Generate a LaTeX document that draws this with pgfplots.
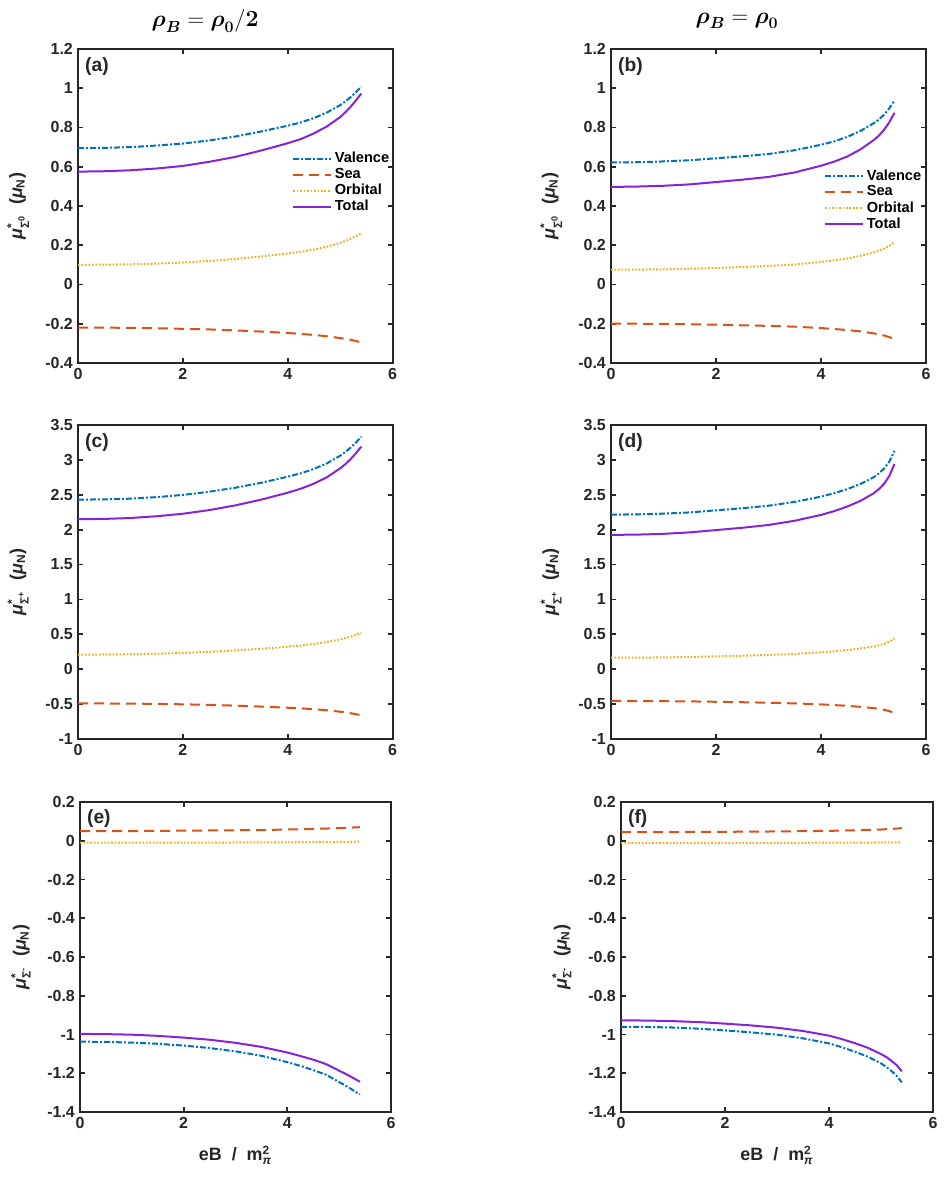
\documentclass[11pt,border=0pt]{standalone}
\usepackage{amsmath}
\usepackage[no-math]{fontspec}
\setmainfont{Liberation Sans}
\usepackage{pgfplots}
\pgfplotsset{compat=1.18}
\definecolor{cval}{RGB}{0,114,189}
\definecolor{csea}{RGB}{217,83,25}
\definecolor{corb}{RGB}{237,177,32}
\definecolor{ctot}{RGB}{135,35,215}
\definecolor{axgray}{RGB}{38,38,38}
\pgfplotsset{
  panel/.style={
    scale only axis, anchor=south west,
    xmin=0, xmax=6, xtick={0,2,4,6},
    tick align=inside, major tick length=3.5pt,
    axis line style={line width=1.3pt, color=axgray},
    every tick/.style={line width=1.3pt, color=axgray},
    ticklabel style={font=\large\bfseries, color=axgray},
    /pgf/number format/assume math mode=true,
    label style={font=\large\bfseries, color=axgray, scale=1.12},
    ylabel style={at={(axis description cs:-0.19,0.5)}, anchor=center},
    xlabel style={at={(axis description cs:0.5,-0.14)}, anchor=center},
    title style={anchor=center, font=\LARGE},
    legend style={draw=none, fill=none, anchor=north west, inner sep=0pt,
      font=\normalsize\bfseries, row sep=-1.5pt},
    legend cell align=left,
  },
  val/.style={cval, line width=1.5pt, dash pattern=on 4.5pt off 1.5pt on 1.5pt off 1.5pt},
  sea/.style={csea, line width=1.5pt, dash pattern=on 7.5pt off 4.5pt},
  orb/.style={corb, line width=1.5pt, dash pattern=on 1.3pt off 1.3pt},
  tot/.style={ctot, line width=1.5pt},
}
\pgfplotsset{legend image code/.code={\draw[#1] (0cm,0cm) -- (1cm,0cm);}}
\newcommand{\plab}[1]{\node[anchor=north west, inner sep=0pt, font=\Large\bfseries, color=axgray] at (rel axis cs:0.022,0.975) {#1};}
\begin{document}
\begin{tikzpicture}
\path[use as bounding box] (0pt,0pt) rectangle (707.25pt,900.75pt);

% (a)
\begin{axis}[panel, at={(58.5pt,628.5pt)}, width=236pt, height=235.5pt,
  ymin=-0.4, ymax=1.2, ytick={-0.4,-0.2,0,0.2,0.4,0.6,0.8,1,1.2},
  ylabel={\textit{μ}$^{\text{*}}_{\text{Σ}^{\text{0}}}$\ \ (\textit{μ}$_{\text{N}}$)},
  title={$\boldsymbol{\rho}_{\boldsymbol{B}}=\boldsymbol{\rho}_{\mathbf{0}}/\mathbf{2}$}, title style={at={(axis description cs:0.404,1.063)}},
  legend style={at={(0.68,0.68)}}]
\addplot[val] coordinates {(0,0.695)(0.5,0.696)(1,0.700)(1.5,0.708)(2,0.718)(2.5,0.734)(3,0.754)(3.5,0.780)(4,0.809)(4.25,0.826)(4.5,0.848)(4.75,0.877)(5,0.914)(5.1,0.933)(5.2,0.955)(5.3,0.980)(5.4,1.008)};
\addplot[sea] coordinates {(0,-0.220)(0.5,-0.220)(1,-0.221)(1.5,-0.223)(2,-0.226)(2.5,-0.229)(3,-0.234)(3.5,-0.240)(4,-0.247)(4.25,-0.252)(4.5,-0.257)(4.75,-0.264)(5,-0.273)(5.1,-0.277)(5.2,-0.282)(5.3,-0.288)(5.4,-0.295)};
\addplot[orb] coordinates {(0,0.100)(0.5,0.101)(1,0.103)(1.5,0.106)(2,0.112)(2.5,0.120)(3,0.130)(3.5,0.143)(4,0.158)(4.25,0.167)(4.5,0.178)(4.75,0.193)(5,0.212)(5.1,0.222)(5.2,0.233)(5.3,0.246)(5.4,0.260)};
\addplot[tot] coordinates {(0,0.575)(0.5,0.577)(1,0.582)(1.5,0.591)(2,0.604)(2.5,0.625)(3,0.650)(3.5,0.683)(4,0.720)(4.25,0.741)(4.5,0.770)(4.75,0.806)(5,0.853)(5.1,0.878)(5.2,0.906)(5.3,0.938)(5.4,0.973)};
\legend{Valence,Sea,Orbital,Total}
\plab{(a)}
\end{axis}

% (b)
\begin{axis}[panel, at={(458.25pt,628.5pt)}, width=236.25pt, height=235.5pt,
  ymin=-0.4, ymax=1.2, ytick={-0.4,-0.2,0,0.2,0.4,0.6,0.8,1,1.2},
  ylabel={\textit{μ}$^{\text{*}}_{\text{Σ}^{\text{0}}}$\ \ (\textit{μ}$_{\text{N}}$)},
  title={$\boldsymbol{\rho}_{\boldsymbol{B}}=\boldsymbol{\rho}_{\mathbf{0}}$}, title style={at={(axis description cs:0.40,1.063)}},
  legend style={at={(0.676,0.625)}}]
\addplot[val] coordinates {(0,0.622)(0.5,0.623)(1,0.627)(1.5,0.633)(2,0.643)(2.5,0.653)(3,0.665)(3.5,0.684)(4,0.712)(4.25,0.729)(4.5,0.752)(4.75,0.782)(5,0.821)(5.1,0.840)(5.2,0.865)(5.3,0.897)(5.4,0.938)};
\addplot[sea] coordinates {(0,-0.200)(0.5,-0.200)(1,-0.201)(1.5,-0.203)(2,-0.205)(2.5,-0.208)(3,-0.211)(3.5,-0.215)(4,-0.222)(4.25,-0.227)(4.5,-0.232)(4.75,-0.239)(5,-0.249)(5.1,-0.254)(5.2,-0.260)(5.3,-0.268)(5.4,-0.278)};
\addplot[orb] coordinates {(0,0.075)(0.5,0.076)(1,0.077)(1.5,0.080)(2,0.084)(2.5,0.089)(3,0.094)(3.5,0.102)(4,0.115)(4.25,0.123)(4.5,0.132)(4.75,0.146)(5,0.163)(5.1,0.172)(5.2,0.183)(5.3,0.197)(5.4,0.215)};
\addplot[tot] coordinates {(0,0.497)(0.5,0.499)(1,0.503)(1.5,0.510)(2,0.522)(2.5,0.534)(3,0.548)(3.5,0.571)(4,0.605)(4.25,0.626)(4.5,0.652)(4.75,0.688)(5,0.735)(5.1,0.758)(5.2,0.788)(5.3,0.826)(5.4,0.875)};
\legend{Valence,Sea,Orbital,Total}
\plab{(b)}
\end{axis}

% (c)
\begin{axis}[panel, at={(58.5pt,346.5pt)}, width=236pt, height=235.5pt,
  ymin=-1, ymax=3.5, ytick={-1,-0.5,0,0.5,1,1.5,2,2.5,3,3.5},
  ylabel={\textit{μ}$^{\text{*}}_{\text{Σ}^{\text{+}}}$\ \ (\textit{μ}$_{\text{N}}$)}]
\addplot[val] coordinates {(0,2.430)(0.5,2.434)(1,2.444)(1.5,2.466)(2,2.498)(2.5,2.543)(3,2.601)(3.5,2.673)(4,2.759)(4.25,2.808)(4.5,2.871)(4.75,2.952)(5,3.060)(5.1,3.114)(5.2,3.177)(5.3,3.249)(5.4,3.330)};
\addplot[sea] coordinates {(0,-0.490)(0.5,-0.491)(1,-0.493)(1.5,-0.497)(2,-0.503)(2.5,-0.511)(3,-0.522)(3.5,-0.536)(4,-0.552)(4.25,-0.561)(4.5,-0.573)(4.75,-0.589)(5,-0.609)(5.1,-0.619)(5.2,-0.631)(5.3,-0.645)(5.4,-0.660)};
\addplot[orb] coordinates {(0,0.210)(0.5,0.211)(1,0.215)(1.5,0.222)(2,0.233)(2.5,0.249)(3,0.269)(3.5,0.294)(4,0.323)(4.25,0.340)(4.5,0.362)(4.75,0.390)(5,0.427)(5.1,0.446)(5.2,0.467)(5.3,0.492)(5.4,0.520)};
\addplot[tot] coordinates {(0,2.150)(0.5,2.154)(1,2.167)(1.5,2.192)(2,2.228)(2.5,2.280)(3,2.348)(3.5,2.431)(4,2.530)(4.25,2.587)(4.5,2.660)(4.75,2.753)(5,2.878)(5.1,2.940)(5.2,3.013)(5.3,3.096)(5.4,3.190)};
\plab{(c)}
\end{axis}

% (d)
\begin{axis}[panel, at={(458.25pt,346.5pt)}, width=236.25pt, height=235.5pt,
  ymin=-1, ymax=3.5, ytick={-1,-0.5,0,0.5,1,1.5,2,2.5,3,3.5},
  ylabel={\textit{μ}$^{\text{*}}_{\text{Σ}^{\text{+}}}$\ \ (\textit{μ}$_{\text{N}}$)}]
\addplot[val] coordinates {(0,2.215)(0.5,2.219)(1,2.229)(1.5,2.247)(2,2.277)(2.5,2.307)(3,2.343)(3.5,2.398)(4,2.473)(4.25,2.522)(4.5,2.581)(4.75,2.654)(5,2.750)(5.1,2.805)(5.2,2.874)(5.3,2.974)(5.4,3.130)};
\addplot[sea] coordinates {(0,-0.455)(0.5,-0.456)(1,-0.458)(1.5,-0.461)(2,-0.467)(2.5,-0.473)(3,-0.480)(3.5,-0.490)(4,-0.504)(4.25,-0.514)(4.5,-0.525)(4.75,-0.539)(5,-0.557)(5.1,-0.568)(5.2,-0.581)(5.3,-0.600)(5.4,-0.630)};
\addplot[orb] coordinates {(0,0.165)(0.5,0.166)(1,0.169)(1.5,0.175)(2,0.184)(2.5,0.193)(3,0.204)(3.5,0.220)(4,0.243)(4.25,0.257)(4.5,0.275)(4.75,0.297)(5,0.326)(5.1,0.342)(5.2,0.363)(5.3,0.393)(5.4,0.440)};
\addplot[tot] coordinates {(0,1.925)(0.5,1.929)(1,1.940)(1.5,1.961)(2,1.994)(2.5,2.027)(3,2.067)(3.5,2.128)(4,2.211)(4.25,2.265)(4.5,2.331)(4.75,2.412)(5,2.519)(5.1,2.580)(5.2,2.656)(5.3,2.767)(5.4,2.940)};
\plab{(d)}
\end{axis}

% (e)
\begin{axis}[panel, at={(60pt,66.75pt)}, width=233.25pt, height=232.5pt,
  ymin=-1.4, ymax=0.2, ytick={-1.4,-1.2,-1,-0.8,-0.6,-0.4,-0.2,0,0.2},
  ylabel={\textit{μ}$^{\text{*}}_{\text{Σ}^{\text{-}}}$\ \ (\textit{μ}$_{\text{N}}$)},
  xlabel={eB\ \ /\ \ m$^{\text{2}}_{\text{\textit{π}}}$}]
\addplot[val] coordinates {(0,-1.037)(0.5,-1.038)(1,-1.042)(1.5,-1.048)(2,-1.057)(2.5,-1.070)(3,-1.087)(3.5,-1.110)(4,-1.143)(4.25,-1.162)(4.5,-1.184)(4.75,-1.208)(5,-1.246)(5.1,-1.260)(5.2,-1.276)(5.3,-1.293)(5.4,-1.309)};
\addplot[sea] coordinates {(0,0.050)(1,0.050)(2,0.052)(3,0.054)(3.5,0.055)(4,0.058)(4.5,0.061)(5,0.065)(5.4,0.070)};
\addplot[orb] coordinates {(0,-0.010)(2,-0.010)(3,-0.009)(4,-0.008)(5,-0.006)(5.4,-0.005)};
\addplot[tot] coordinates {(0,-0.997)(0.5,-0.998)(1,-1.001)(1.5,-1.007)(2,-1.016)(2.5,-1.027)(3,-1.043)(3.5,-1.064)(4,-1.093)(4.25,-1.111)(4.5,-1.130)(4.75,-1.153)(5,-1.187)(5.1,-1.200)(5.2,-1.214)(5.3,-1.229)(5.4,-1.244)};
\plab{(e)}
\end{axis}

% (f)
\begin{axis}[panel, at={(465.75pt,66.75pt)}, width=234pt, height=232.5pt,
  ymin=-1.4, ymax=0.2, ytick={-1.4,-1.2,-1,-0.8,-0.6,-0.4,-0.2,0,0.2},
  ylabel={\textit{μ}$^{\text{*}}_{\text{Σ}^{\text{-}}}$\ \ (\textit{μ}$_{\text{N}}$)},
  xlabel={eB\ \ /\ \ m$^{\text{2}}_{\text{\textit{π}}}$}]
\addplot[val] coordinates {(0,-0.960)(0.5,-0.961)(1,-0.964)(1.5,-0.970)(2,-0.979)(2.5,-0.989)(3,-1.001)(3.5,-1.020)(4,-1.046)(4.25,-1.066)(4.5,-1.089)(4.75,-1.115)(5,-1.149)(5.1,-1.167)(5.2,-1.188)(5.3,-1.213)(5.4,-1.247)};
\addplot[sea] coordinates {(0,0.045)(1,0.045)(2,0.046)(3,0.048)(4,0.051)(4.5,0.054)(5,0.058)(5.2,0.061)(5.4,0.065)};
\addplot[orb] coordinates {(0,-0.012)(2,-0.012)(3,-0.011)(4,-0.010)(5,-0.009)(5.4,-0.008)};
\addplot[tot] coordinates {(0,-0.927)(0.5,-0.928)(1,-0.931)(1.5,-0.936)(2,-0.944)(2.5,-0.953)(3,-0.965)(3.5,-0.982)(4,-1.006)(4.25,-1.024)(4.5,-1.045)(4.75,-1.069)(5,-1.101)(5.1,-1.116)(5.2,-1.136)(5.3,-1.158)(5.4,-1.190)};
\plab{(f)}
\end{axis}
\end{tikzpicture}
\end{document}
